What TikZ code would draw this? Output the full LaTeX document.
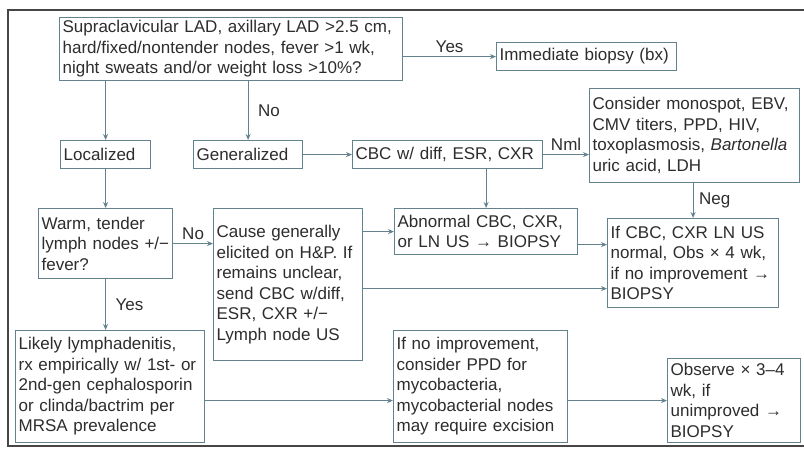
\documentclass[tikz,border=0pt]{standalone}
\usepackage{fontspec}
\setmainfont{Liberation Sans}
\usetikzlibrary{arrows.meta}
\definecolor{linecol}{RGB}{100,130,142}
\definecolor{txtcol}{RGB}{45,45,45}
\definecolor{framecol}{RGB}{70,70,70}

\begin{document}
\begin{tikzpicture}[x=1pt,y=-1pt]
  % Define styles for nodes
  \tikzstyle{box} = [anchor=north west, draw=linecol, rectangle, fill=white,
  line width=1.2pt, inner xsep=3pt, inner ysep=2pt, align=left,
  text=txtcol, font=\fontsize{17}{20.5}\selectfont]
  \tikzstyle{link} = [draw=linecol, line width=1.2pt,
  -{Stealth[length=6pt,width=5pt]}]
  \tikzstyle{lbl} = [text=txtcol, font=\fontsize{17}{20}\selectfont]

  \useasboundingbox (0,0) rectangle (804,452);

  % Page frame
  \draw[framecol, line width=1.6pt] (804,10) -- (8,10) -- (8,446) -- (804,446);

  % First row
  \node[box, text width=337pt, minimum height=63pt] (screen) at (59,17)
  {Supraclavicular LAD, axillary LAD >2.5 cm,\\
   hard/fixed/nontender nodes, fever >1 wk,\\
   night sweats and/or weight loss >10\%?};
  \node[box, text width=174pt, minimum height=28pt] (biopsy) at (496,42)
  {Immediate biopsy (bx)};
  \node[box, text width=204pt, minimum height=94pt] (infect) at (589,88)
  {Consider monospot, EBV,\\ CMV titers, PPD, HIV,\\
   toxoplasmosis, \textit{Bartonella}\\ uric acid, LDH};

  % Second row
  \node[box, text width=84pt, minimum height=28pt] (local) at (60,140) {Localized};
  \node[box, text width=103pt, minimum height=28pt] (general) at (193,140) {Generalized};
  \node[box, text width=184pt, minimum height=28pt] (labs) at (352,140)
  {CBC w/ diff, ESR, CXR};

  % Third row
  \node[box, text width=128pt, minimum height=70pt] (warm) at (38,208)
  {Warm, tender\\ lymph nodes +/−\\ fever?};
  \node[box, text width=143pt, minimum height=152pt] (cause) at (213,208)
  {Cause generally\\ elicited on H\&P. If\\ remains unclear,\\
   send CBC w/diff,\\ ESR, CXR +/−\\ Lymph node US};
  \node[box, text width=177pt, minimum height=46pt] (abnormal) at (394,208)
  {Abnormal CBC, CXR,\\ or LN US → BIOPSY};
  \node[box, text width=165pt, minimum height=89pt] (watch4) at (607,218)
  {If CBC, CXR LN US\\ normal, Obs × 4 wk,\\ if no improvement →\\ BIOPSY};

  % Bottom row
  \node[box, text width=183pt, minimum height=112pt] (adenitis) at (15,330)
  {Likely lymphadenitis,\\ rx empirically w/ 1st- or\\ 2nd-gen cephalosporin\\
   or clinda/bactrim per\\ MRSA prevalence};
  \node[box, text width=168pt, minimum height=112pt] (myco) at (393,330)
  {If no improvement,\\ consider PPD for\\ mycobacteria,\\
   mycobacterial nodes\\ may require excision};
  \node[box, text width=127pt, minimum height=84pt] (watch3) at (667,358)
  {Observe × 3–4\\ wk, if\\ unimproved →\\ BIOPSY};

  % Connections
  \draw[link] (biopsy.west -| screen.east) -- node[lbl, above] {Yes} (biopsy.west);
  \draw[link] (local.north |- screen.south) -- (local.north);
  \draw[link] (general.north |- screen.south) -- node[lbl, right, xshift=6pt] {No} (general.north);
  \draw[link] (general.east) -- (general.east -| labs.west);
  \draw[link] (labs.east) -- node[lbl, above] {Nml} (labs.east -| infect.west);
  \draw[link] (abnormal.north |- labs.south) -- (abnormal.north);
  \draw[link] (watch4.north |- infect.south) -- node[lbl, right, xshift=2pt] {Neg} (watch4.north);
  \draw[link] (local.south) -- (local.south |- warm.north);
  \draw[link] (warm.east) -- node[lbl, above] {No} (warm.east -| cause.west);
  \draw[link] (abnormal.west -| cause.east) -- (abnormal.west);
  \draw[link] ([yshift=-13pt]abnormal.east) -- ([yshift=-13pt]abnormal.east -| watch4.west);
  \draw[link] ([yshift=-4pt]cause.east) -- ([yshift=-4pt]cause.east -| watch4.west);
  \draw[link] (warm.south) -- node[lbl, right, xshift=6pt] {Yes} (warm.south |- adenitis.north);
  \draw[link] (adenitis.east |- watch3.west) -- (myco.west |- watch3.west);
  \draw[link] (myco.east |- watch3.west) -- (watch3.west);
\end{tikzpicture}
\end{document}
